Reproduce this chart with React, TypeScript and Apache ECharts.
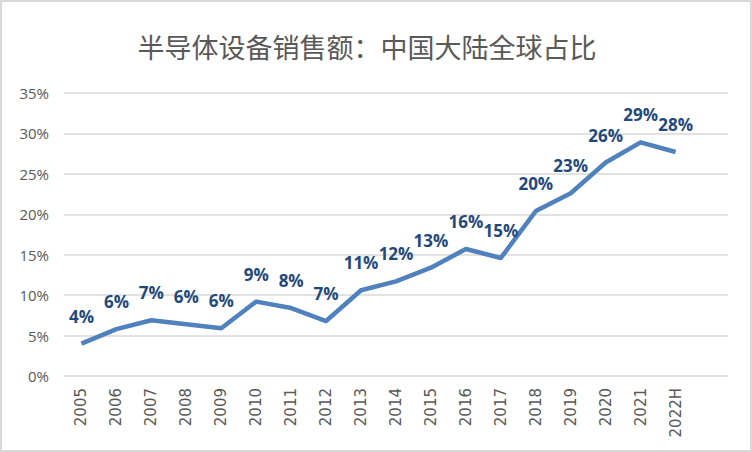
import React, { useEffect, useRef } from "react";
import * as echarts from "echarts";

const titleText = "半导体设备销售额：中国大陆全球占比";
const categories = ["2005", "2006", "2007", "2008", "2009", "2010", "2011", "2012", "2013", "2014", "2015", "2016", "2017", "2018", "2019", "2020", "2021", "2022H", ""];
const shareValues = [4.0, 5.8, 6.9, 6.4, 5.9, 9.2, 8.4, 6.8, 10.6, 11.7, 13.4, 15.7, 14.6, 20.4, 22.6, 26.4, 28.9, 27.7, null];
const yTicks = { min: 0, max: 35, interval: 5 };

export default function App() {
  const ref = useRef<HTMLDivElement>(null);
  useEffect(() => {
    if (!ref.current) return;
    const chart = echarts.init(ref.current, null, { renderer: "svg" });
    chart.setOption({
      animation: false,
      backgroundColor: "#ffffff",
      title: {
        text: titleText,
        left: 360,
        textAlign: "center",
        top: 26,
        textStyle: {
          fontFamily: "Noto Sans CJK SC",
          fontSize: 27,
          fontWeight: "normal",
          color: "#595959",
        },
      },
      grid: { left: 62, right: 22, top: 91, bottom: 74 },
      xAxis: {
        type: "category",
        data: categories,
        boundaryGap: true,
        axisLine: { show: false },
        axisTick: { show: false },
        axisLabel: {
          rotate: 90,
          interval: 0,
          margin: 12,
          color: "#595959",
          fontSize: 15,
          fontFamily: "DejaVu Sans",
        },
      },
      yAxis: {
        type: "value",
        min: yTicks.min,
        max: yTicks.max,
        interval: yTicks.interval,
        axisLine: { show: false },
        axisTick: { show: false },
        splitLine: { lineStyle: { color: "#d9d9d9", width: 1.5 } },
        axisLabel: {
          formatter: "{value}%",
          color: "#595959",
          fontSize: 15,
          margin: 15,
          fontFamily: "Open Sans",
        },
      },
      series: [
        {
          type: "line",
          data: shareValues,
          symbol: "circle",
          symbolSize: 0,
          showSymbol: true,
          lineStyle: { color: "#4f81bd", width: 4.5, join: "round" },
          itemStyle: { color: "#4f81bd" },
          label: {
            show: true,
            position: "top",
            distance: 19,
            formatter: (p: any) => (p.value == null ? "" : Math.round(p.value) + "%"),
            color: "#1f497d",
            fontSize: 17,
            fontWeight: "bold",
            fontFamily: "Open Sans",
          },
        },
      ],
    });
    return () => chart.dispose();
  }, []);
  return (
    <div
      ref={ref}
      style={{
        position: "fixed",
        left: 0,
        top: 0,
        width: 752,
        height: 452,
        boxSizing: "border-box",
        border: "2px solid #d9d9d9",
      }}
    />
  );
}
